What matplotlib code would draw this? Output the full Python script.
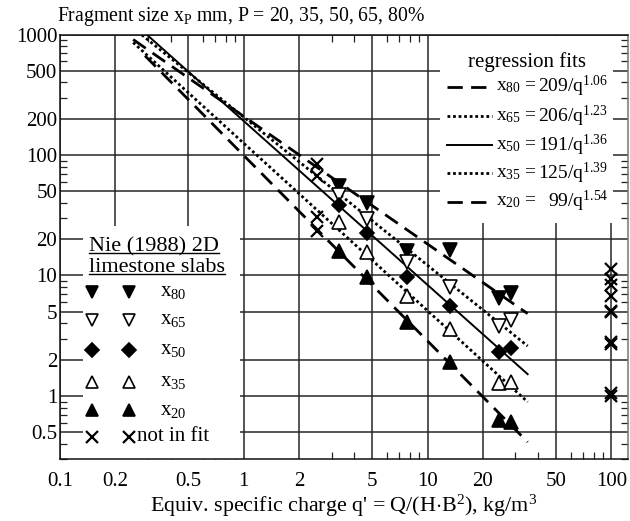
import numpy as np
import matplotlib
matplotlib.use('Agg')
import matplotlib.pyplot as plt
from matplotlib.lines import Line2D
from matplotlib.patches import Rectangle
from matplotlib.ticker import FixedLocator, NullFormatter, FuncFormatter

plt.rcParams['font.family'] = ['Liberation Serif', 'DejaVu Serif']
plt.rcParams['mathtext.fontset'] = 'custom'
plt.rcParams['mathtext.rm'] = 'Liberation Serif'
plt.rcParams['mathtext.it'] = 'Liberation Serif:italic'

# ---------------- data ----------------
q_tests = [3.3, 4.7, 7.7, 13.3, 24.4, 28.4]
x80 = [55, 40, 16.0, 16.3, 6.5, 7.1]
x65 = [47, 29.3, 13.0, 8.1, 3.8, 4.3]
x50 = [38.5, 22.7, 9.7, 5.6, 2.3, 2.5]
x35 = [27.9, 15.8, 6.8, 3.6, 1.29, 1.31]
x20 = [16.1, 9.8, 4.1, 1.9, 0.63, 0.61]
q_notfit = [2.5, 2.5, 2.5, 2.5, 100, 100, 100, 100, 100, 100, 100, 100, 100, 100]
x_notfit = [84, 67, 30.4, 23.5, 11.3, 9.3, 8.3, 6.8, 5.1, 5.0, 2.8, 2.7, 1.05, 1.0]

fit_names = ['80', '65', '50', '35', '20']
fit_coef = [209, 206, 191, 125, 99]
fit_exp = [1.06, 1.23, 1.36, 1.39, 1.54]
fit_q_start = [0.25, 0.25, 0.25, 0.25, 0.29]
fit_q_end = [35, 35, 35, 35, 35]

major_x = [0.1, 0.2, 0.5, 1, 2, 5, 10, 20, 50, 100]
major_y = [0.5, 1, 2, 5, 10, 20, 50, 100, 200, 500, 1000]
minor_subs = [3, 4, 6, 7, 8, 9]

FS = 15

fig = plt.figure(figsize=(6.3, 5.21), dpi=100)
ax = fig.add_axes([60/630, 1-459/521, 568/630, 424.5/521])
ax.set_xscale('log')
ax.set_yscale('log')
ax.set_xlim(0.1, 123)
ax.set_ylim(0.3, 1000)

minor_x = [s*10.0**d for d in range(-1, 3) for s in minor_subs]
minor_y = [s*10.0**d for d in range(-1, 3) for s in minor_subs]
ax.xaxis.set_major_locator(FixedLocator(major_x))
ax.yaxis.set_major_locator(FixedLocator(major_y))
ax.xaxis.set_minor_locator(FixedLocator(minor_x))
ax.yaxis.set_minor_locator(FixedLocator(minor_y))
fmt = FuncFormatter(lambda v, p: '%g' % v)
ax.xaxis.set_major_formatter(fmt)
ax.yaxis.set_major_formatter(fmt)
ax.xaxis.set_minor_formatter(NullFormatter())
ax.yaxis.set_minor_formatter(NullFormatter())
ax.tick_params(which='major', length=0, labelsize=FS)
ax.tick_params(axis='x', which='major', pad=9)
ax.tick_params(axis='y', which='major', pad=2)
ax.tick_params(which='minor', direction='in', length=5, width=0.9,
               top=True, right=True, color='#222')
ax.grid(True, which='major', color='#262626', lw=1.1)
ax.set_axisbelow(True)
for s in ax.spines.values():
    s.set_linewidth(1.1)
    s.set_color('#111')
ax.spines['right'].set_color('#777')

# legend backgrounds
ax.add_patch(Rectangle((0.669, 0.556), 0.305, 0.44, transform=ax.transAxes,
                       facecolor='white', edgecolor='none', zorder=1.5))
ax.add_patch(Rectangle((0.0405, 0.0), 0.276, 0.55, transform=ax.transAxes,
                       facecolor='white', edgecolor='none', zorder=1.5))

# regression lines
styles = [dict(ls=(0, (5.5, 3)), lw=2.0),
          dict(ls=(0, (1, 1)), lw=2.0),
          dict(ls='-', lw=1.4),
          dict(ls=(0, (1, 1)), lw=2.0),
          dict(ls=(0, (5.5, 3)), lw=2.0)]
for c, e, q0, q1, st in zip(fit_coef, fit_exp, fit_q_start, fit_q_end, styles):
    qq = np.geomspace(q0, q1, 100)
    ax.plot(qq, c*qq**(-e), color='black', zorder=2, **st)

# data points
series = [(x80, 'v', 'black'), (x65, 'v', 'white'), (x50, 'D', 'black'),
          (x35, '^', 'white'), (x20, '^', 'black')]
for vals, m, fc in series:
    ms = 7.5 if m == 'D' else 9.5
    ax.plot(q_tests, vals, marker=m, mfc=fc, mec='black', mew=1.2, ms=ms,
            ls='none', zorder=3)
ax.plot(q_notfit, x_notfit, marker='x', color='black', ms=9, mew=1.6,
        ls='none', zorder=3)

# upper-right legend
LFS = 14
ax.text(0.822, 0.935, 'regression fits', transform=ax.transAxes,
        ha='center', va='center', fontsize=FS, zorder=4)
rows_y = [0.877, 0.808, 0.739, 0.673, 0.606]
for name, c, e, st, fy in zip(fit_names, fit_coef, fit_exp, styles, rows_y):
    ax.add_line(Line2D([0.681, 0.760], [fy, fy], transform=ax.transAxes,
                       color='black', zorder=4, **st))
    ax.text(0.767, fy, r'$\mathregular{x_{%s}}$ =' % name, transform=ax.transAxes,
            ha='left', va='center', fontsize=LFS, zorder=4)
    ax.text(0.965, fy, r'%d/$\mathregular{q^{%.2f}}$' % (c, e), transform=ax.transAxes,
            ha='right', va='center', fontsize=LFS, zorder=4)

# lower-left legend
TFS = 16
t1 = ax.text(0.051, 0.490, 'Nie (1988) 2D', transform=ax.transAxes,
             ha='left', va='baseline', fontsize=TFS, zorder=4)
t2 = ax.text(0.051, 0.4405, 'limestone slabs', transform=ax.transAxes,
             ha='left', va='baseline', fontsize=TFS, zorder=4)
leg_rows = [0.394, 0.328, 0.257, 0.182, 0.115, 0.053]
for (vals, m, fc), name, fy in zip(series, fit_names, leg_rows):
    ms = 7.5 if m == 'D' else 9
    for fx in (0.0569, 0.122):
        ax.plot([fx], [fy], marker=m, mfc=fc, mec='black', mew=1.2, ms=ms,
                transform=ax.transAxes, zorder=4, clip_on=False)
    ax.text(0.176, fy, r'$\mathregular{x_{%s}}$' % name, transform=ax.transAxes,
            ha='left', va='center', fontsize=FS, zorder=4)
for fx in (0.0569, 0.122):
    ax.plot([fx], [leg_rows[-1]], marker='x', color='black', ms=8, mew=1.6,
            transform=ax.transAxes, zorder=4)
ax.text(0.135, leg_rows[-1], 'not in fit', transform=ax.transAxes,
        ha='left', va='center', fontsize=FS, zorder=4)

# titles
fig.text(57/630, 1-16.7/521, r'Fragment size $\mathregular{x_P}$ mm, P = 20, 35, 50, 65, 80%',
         ha='left', va='center', fontsize=14.2)
ax.set_xlabel(r"Equiv. specific charge q' = Q/(H$\cdot$B$\mathregular{^2}$), kg/m$\mathregular{^3}$",
              fontsize=15.8, labelpad=2)

# underline the legend title
fig.canvas.draw()
r = fig.canvas.get_renderer()
inv = fig.transFigure.inverted()
for t in (t1, t2):
    bb = t.get_window_extent(r)
    base = ax.transAxes.transform(t.get_position())[1]
    (x0, y0) = inv.transform((bb.x0, base - 2))
    (x1, _) = inv.transform((bb.x1, base - 2))
    fig.add_artist(Line2D([x0, x1], [y0, y0], transform=fig.transFigure,
                          color='black', lw=1.0))

fig.savefig('out.png', dpi=100)
